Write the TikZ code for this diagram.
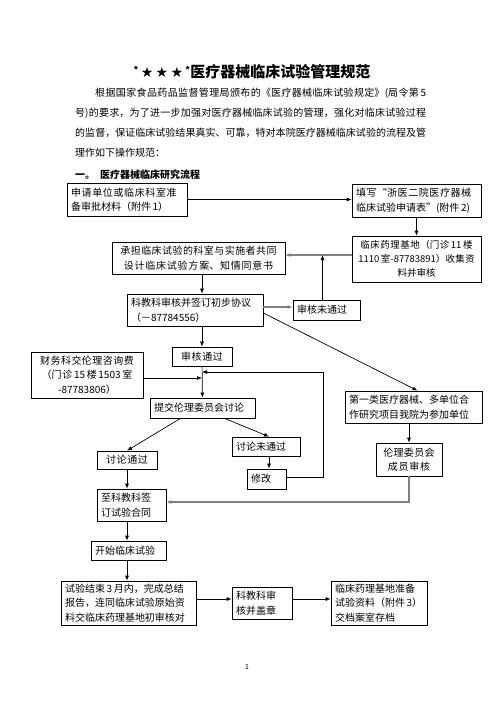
\documentclass[tikz,border=0pt]{standalone}
\usepackage{fontspec}
\setmainfont{Noto Sans CJK SC}
\newfontfamily\starfont{DejaVu Sans}
\usetikzlibrary{arrows.meta,positioning}
\XeTeXlinebreaklocale "zh"
\XeTeXlinebreakskip=0pt plus 2pt
\newcommand\boxfont{\fontsize{10}{14.5}\selectfont}
\begin{document}
\begin{tikzpicture}[x=1pt,y=-1pt,
    box/.style={draw, line width=0.7pt, inner xsep=4pt, inner ysep=0pt, font=\boxfont, align=left},
    cbox/.style={box, align=center},
    arr/.style={-{Latex[length=5pt,width=4pt]}, line width=0.7pt},
    grayarr/.style={arr, draw=black!50, line width=1.6pt}]
\useasboundingbox (0,0) rectangle (496,702);

% title and text
\node[font=\fontsize{15}{18}\selectfont\bfseries] (title) at (252,72)
    {\raisebox{4pt}{\fontsize{9}{9}\selectfont *}{\starfont\fontsize{14}{14}\selectfont\,★\,★\,★\,}\raisebox{4pt}{\fontsize{9}{9}\selectfont *}医疗器械临床试验管理规范};
\node[anchor=north west, inner sep=0pt, text width=351pt, align=justify, font=\fontsize{10}{20}\selectfont] (intro) at (75,88)
    {\hspace*{20pt}根据国家食品药品监督管理局颁布的《医疗器械临床试验规定》(局令第\,5\linebreak
    号)的要求，为了进一步加强对医疗器械临床试验的管理，强化对临床试验过程\linebreak
    的监督，保证临床试验结果真实、可靠，特对本院医疗器械临床试验的流程及管\linebreak
    理作如下操作规范：};
\node[anchor=west, inner sep=0pt, font=\fontsize{10}{12}\selectfont\bfseries] (heading) at (75,175)
    {一。\hspace{5pt}医疗器械临床研究流程};

% boxes
\node[box, text width=112pt, minimum height=33pt] (apply) at (127,199.5) {申请单位或临床科室准\linebreak 备审批材料（附件\,1）};
\node[box, text width=121pt, minimum height=33pt] (form) at (416.5,200.5) {填写“浙医二院医疗器械\linebreak 临床试验申请表”(附件\,2)};
\node[cbox, text width=121pt, minimum height=46pt, font=\fontsize{9.5}{14}\selectfont] (base) at (416.5,259) {临床药理基地（门诊\,11\,楼\\1110\,室-87783891）收集资\\\mbox{料并审核}};
\node[cbox, text width=165pt, minimum height=32pt] (design) at (198.5,258) {承担临床试验的科室与实施者共同\\设计临床试验方案、知情同意书};
\node[box, text width=128pt, minimum height=32pt] (protocol) at (195,310) {科教科审核并签订初步协议\\（－87784556）};
\node[box, text width=59pt, minimum height=20pt] (failed) at (326.5,310) {审核未通过};
\node[cbox, text width=52pt, minimum height=19pt] (passed) at (202,356.5) {审核通过};
\node[cbox, text width=104pt, minimum height=46pt] (fee) at (87,375) {财务科交伦理咨询费\\（门诊\,15\,楼\,1503\,室\\-87783806）};
\node[box, text width=97pt, minimum height=20pt] (ethics) at (202.5,408) {提交伦理委员会讨论};
\node[box, text width=129pt, minimum height=32pt] (single) at (413.5,407) {第一类医疗器械、多单位合\\作研究项目我院为参加单位};
\node[cbox, text width=52pt, minimum height=18pt] (pass) at (127,460) {讨论通过};
\node[box, text width=60pt, minimum height=19pt] (notpass) at (266,446.5) {讨论未通过};
\node[box, text width=31pt, minimum height=20pt] (revise) at (266.5,479) {修改};
\node[cbox, text width=58pt, minimum height=33pt] (members) at (409,459.5) {伦理委员会\\成员审核};
\node[box, text width=61pt, minimum height=32pt] (contract) at (131.5,505) {至科教科签\\订试验合同};
\node[box, text width=67pt, minimum height=19pt] (start) at (128.5,550.5) {开始临床试验};
\node[box, text width=127pt, minimum height=44pt] (report) at (128.5,603) {试验结束\,3\,月内，完成总结\\报告，连同临床试验原始资\\料交临床药理基地初审核对};
\node[box, text width=52pt, minimum height=32pt] (seal) at (262,603) {科教科审\\核并盖章};
\node[box, text width=88pt, minimum height=44pt] (archive) at (379,603) {临床药理基地准备\\试验资料（附件\,3）\\交档案室存档};
\node[font=\fontsize{7}{7}\selectfont] (pagenum) at (247,667) {1};

% connectors
\coordinate (cd) at ([yshift=4pt]base.west);
\coordinate (loop) at (323,372);
\draw[arr] (apply.east) -- (apply.east -| form.west);
\draw[arr] (form) -- (base);
\draw[grayarr] (cd) -- (cd -| design.east);
\draw[arr] (design.south -| passed) -- (passed |- protocol.north);
\draw[grayarr] ([yshift=3pt]protocol.east) -- ([yshift=3pt]protocol.east -| failed.west);
\draw[arr] ([xshift=-4pt]failed.north) -- ([xshift=-4pt]failed.north |- cd);
\draw[arr] ([yshift=-3pt]protocol.east) -- ([xshift=4pt]single.north);
\draw[arr] (protocol.south -| passed) -- (passed);
\draw[arr] (passed) -- (ethics);
\draw[arr] ([yshift=-3pt]fee.east) -- ([yshift=-3pt]fee.east -| passed);
\draw[arr] ([yshift=2pt]revise.east) -| (loop) -- (loop -| passed);
\draw[arr] ([xshift=-22pt]ethics.south) -- (pass.north);
\draw[arr] ([xshift=22pt]ethics.south) -- ([xshift=3pt]notpass.north);
\draw[arr] ([xshift=3pt]notpass.south) -- ([xshift=3pt]notpass.south |- revise.north);
\draw[arr] (members.north |- single.south) -- (members.north);
\draw[grayarr] (members.south) |- ([yshift=3pt]contract.east);
\draw[arr] (pass) -- (pass |- contract.north);
\draw[arr] (contract.south -| pass) -- (start.north -| pass);
\draw[arr] (start.south -| pass) -- (report.north -| pass);
\draw[arr] ([yshift=4pt]report.east) -- ([yshift=4pt]report.east -| seal.west);
\draw[arr] ([yshift=4pt]seal.east) -- ([yshift=4pt]seal.east -| archive.west);
\end{tikzpicture}
\end{document}
